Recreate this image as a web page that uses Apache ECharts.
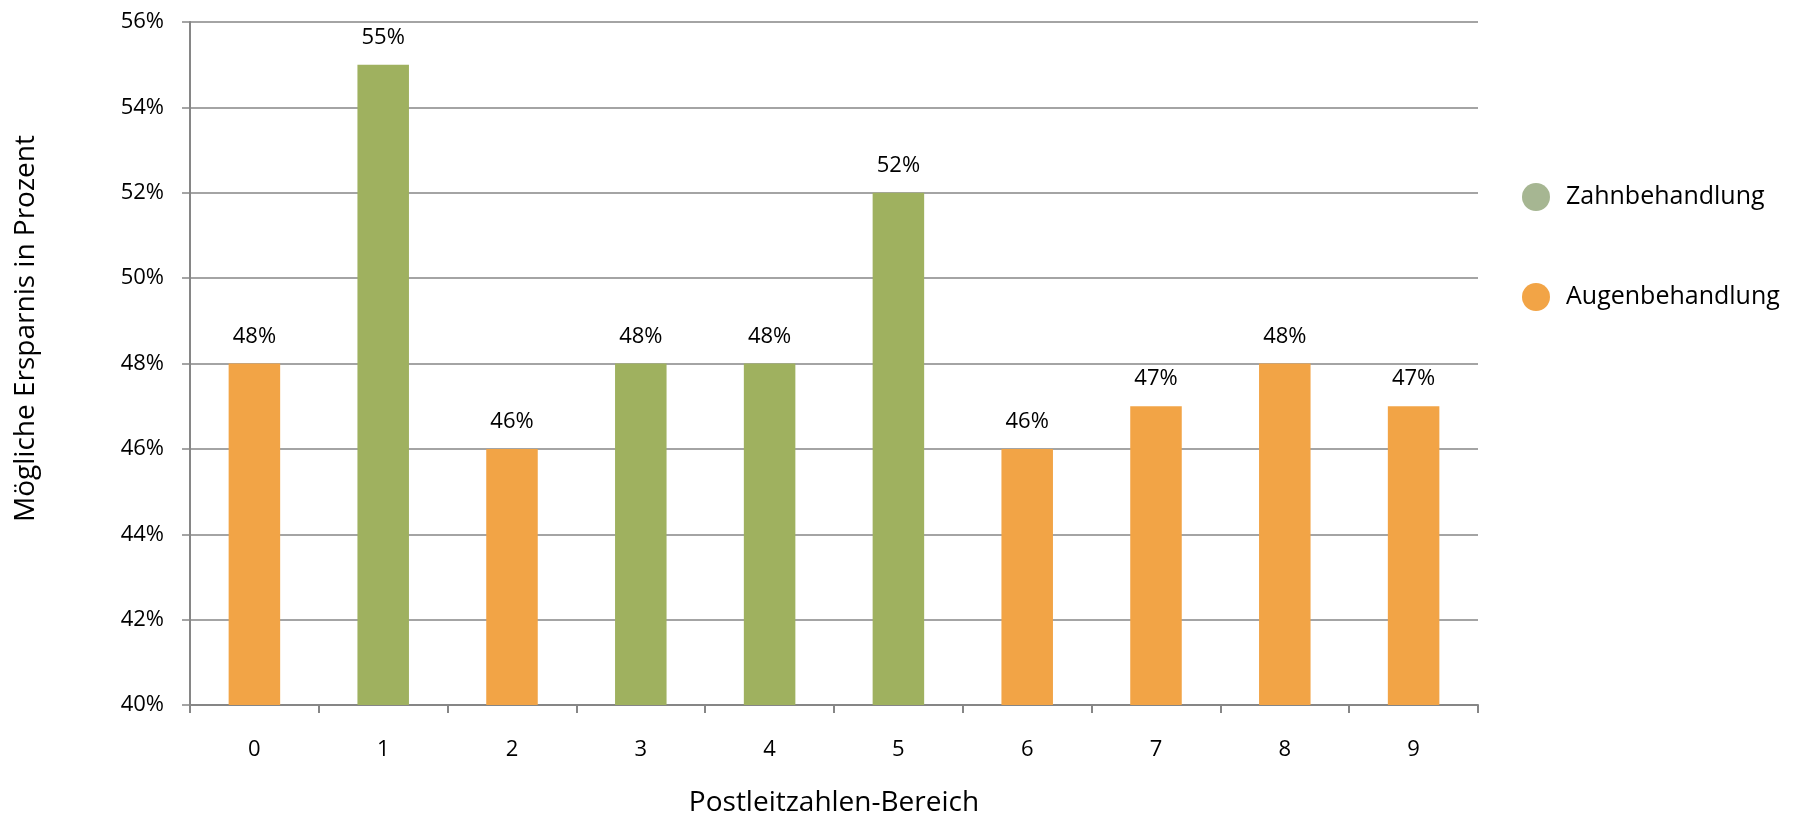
<!DOCTYPE html>
<html>
<head>
<meta charset="utf-8">
<script src="https://cdn.jsdelivr.net/npm/echarts@6/dist/echarts.min.js"></script>
<style>
html,body{margin:0;padding:0;background:#fff;}
#chart{width:1796px;height:818px;}
</style>
</head>
<body>
<div id="chart"></div>
<script>
const categories = ['0','1','2','3','4','5','6','7','8','9'];
const zahnbehandlung = [null, 55, null, 48, 48, 52, null, null, null, null];
const augenbehandlung = [48, null, 46, null, null, null, 46, 47, 48, 47];
const yMin = 40, yMax = 56, yStep = 2;

const FONT = 'Open Sans';
const chart = echarts.init(document.getElementById('chart'));
const labelOpt = {
  show: true, position: 'top', distance: 16,
  formatter: p => p.value + '%',
  color: '#000', fontFamily: FONT, fontSize: 22
};
chart.setOption({
  animation: false,
  backgroundColor: '#fff',
  grid: { left: 190, right: 318, top: 22, bottom: 113, containLabel: false, outerBoundsMode: 'none' },
  legend: {
    orient: 'vertical', left: 1517, top: 178, itemGap: 72,
    icon: 'circle', itemWidth: 28, itemHeight: 28,
    textStyle: { fontFamily: FONT, fontSize: 25, color: '#000', padding: [0,0,0,11] },
    data: [
      { name: 'Zahnbehandlung', itemStyle: { color: '#a6b692' } },
      { name: 'Augenbehandlung', itemStyle: { color: '#f2a446' } }
    ]
  },
  xAxis: {
    type: 'category', data: categories,
    name: 'Postleitzahlen-Bereich', nameLocation: 'middle', nameGap: 84,
    nameTextStyle: { fontFamily: FONT, fontSize: 28, color: '#000' },
    axisLine: { lineStyle: { color: '#868686', width: 2 } },
    axisTick: { show: true, length: 8, lineStyle: { color: '#868686', width: 2 } },
    axisLabel: { fontFamily: FONT, fontSize: 22, color: '#000', margin: 34 }
  },
  yAxis: {
    type: 'value', min: yMin, max: yMax, interval: yStep,
    name: 'Mögliche Ersparnis in Prozent', nameLocation: 'middle', nameRotate: 90, nameGap: 150,
    nameTextStyle: { fontFamily: FONT, fontSize: 28, color: '#000', padding: [0, 0, 0, 70] },
    axisLine: { show: true, lineStyle: { color: '#868686', width: 2 } },
    axisTick: { show: true, length: 8, lineStyle: { color: '#868686', width: 1.5 } },
    axisLabel: { fontFamily: FONT, fontSize: 22, color: '#000', margin: 26, formatter: v => v + '%' },
    splitLine: { show: true, lineStyle: { color: '#868686', width: 1.5 } }
  },
  series: [
    { name: 'Zahnbehandlung', type: 'bar', data: zahnbehandlung, barWidth: '40%', barGap: '-100%',
      itemStyle: { color: '#9fb15f' }, label: labelOpt },
    { name: 'Augenbehandlung', type: 'bar', data: augenbehandlung, barWidth: '40%', barGap: '-100%',
      itemStyle: { color: '#f2a446' }, label: labelOpt }
  ]
});
</script>
</body>
</html>
